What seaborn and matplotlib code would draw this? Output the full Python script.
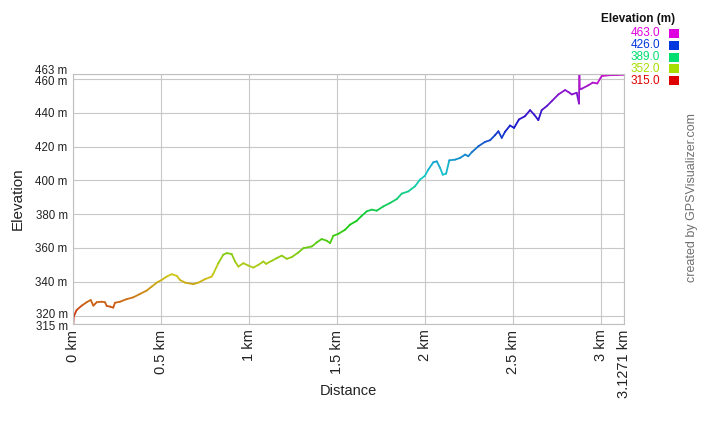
import colorsys
import matplotlib
matplotlib.use("Agg")
import matplotlib.pyplot as plt
from matplotlib.colors import ListedColormap
from matplotlib.patches import Rectangle
from matplotlib.transforms import ScaledTranslation
import seaborn as sns
import pandas as pd
import numpy as np

# --- data ---
dist_km = [0.000, 0.002, 0.019, 0.048, 0.076, 0.099, 0.114, 0.133, 0.161, 0.180,
           0.190, 0.209, 0.227, 0.237, 0.265, 0.303, 0.341, 0.379, 0.417, 0.445,
           0.477, 0.502, 0.531, 0.559, 0.588, 0.606, 0.635, 0.682, 0.710, 0.748,
           0.786, 0.795, 0.824, 0.852, 0.872, 0.900, 0.919, 0.938, 0.966, 0.994,
           1.023, 1.051, 1.080, 1.095, 1.127, 1.156, 1.184, 1.213, 1.241, 1.278,
           1.307, 1.355, 1.383, 1.411, 1.440, 1.459, 1.477, 1.506, 1.544, 1.572,
           1.610, 1.639, 1.667, 1.695, 1.724, 1.761, 1.799, 1.838, 1.866, 1.903,
           1.941, 1.970, 1.998, 2.017, 2.045, 2.065, 2.084, 2.099, 2.118, 2.136,
           2.169, 2.197, 2.226, 2.244, 2.264, 2.301, 2.339, 2.368, 2.396, 2.415,
           2.434, 2.453, 2.481, 2.504, 2.532, 2.566, 2.595, 2.618, 2.642, 2.661,
           2.690, 2.718, 2.756, 2.794, 2.813, 2.832, 2.860, 2.873, 2.875, 2.877,
           2.889, 2.926, 2.951, 2.977, 3.002, 3.049, 3.088, 3.127]
elev_m = [315.0, 319.3, 323.3, 325.9, 327.9, 329.2, 325.9, 327.9, 328.2, 327.9,
          325.7, 325.3, 324.7, 327.6, 328.2, 329.7, 330.8, 332.8, 334.8, 337.1,
          339.7, 341.1, 343.1, 344.5, 343.5, 341.1, 339.5, 338.6, 339.5, 341.5,
          343.1, 344.7, 351.0, 356.0, 357.0, 356.4, 352.0, 349.0, 351.0, 349.6,
          348.4, 350.0, 352.0, 350.6, 352.4, 354.0, 355.5, 353.6, 354.6, 357.3,
          359.9, 360.9, 363.3, 365.3, 364.3, 362.9, 367.2, 368.4, 370.8, 373.8,
          376.1, 379.1, 381.7, 382.7, 382.1, 384.6, 386.6, 389.0, 392.2, 393.5,
          396.5, 400.5, 402.8, 406.4, 410.7, 411.3, 407.4, 403.4, 404.0, 411.9,
          412.3, 413.3, 415.3, 414.3, 416.7, 420.2, 422.8, 423.8, 426.8, 429.1,
          425.2, 428.8, 432.5, 431.1, 436.1, 438.0, 441.6, 439.0, 435.7, 441.6,
          444.0, 446.9, 450.9, 453.5, 452.3, 450.9, 451.9, 445.5, 463.0, 454.0,
          454.3, 456.3, 457.9, 457.4, 461.8, 462.3, 462.4, 462.5]

y_ticks = [315, 320, 340, 360, 380, 400, 420, 440, 460, 463]
x_ticks = [0, 0.5, 1, 1.5, 2, 2.5, 3, 3.1271]
x_labels = ['0 km', '0.5 km', '1 km', '1.5 km', '2 km', '2.5 km', '3 km', '3.1271 km']
legend_vals = [463.0, 426.0, 389.0, 352.0, 315.0]
e_min, e_max = 315.0, 463.0

# --- style ---
sns.set_theme(style="whitegrid")
plt.rcParams['font.family'] = ['Liberation Sans', 'DejaVu Sans']

def hue_color(v, s, b):
    h = (v - e_min) / (e_max - e_min) * 300 / 360
    return colorsys.hsv_to_rgb(h, s, b)

line_cmap = ListedColormap([colorsys.hsv_to_rgb(h, 0.9, 0.8)
                            for h in np.linspace(0, 300 / 360, 256)])

# one short segment per pair of points, coloured by its elevation
rows = []
for i in range(len(dist_km) - 1):
    h = (elev_m[i] + elev_m[i + 1]) / 2
    rows.append({'seg': i, 'km': dist_km[i], 'm': elev_m[i], 'h': h})
    rows.append({'seg': i, 'km': dist_km[i + 1], 'm': elev_m[i + 1], 'h': h})
seg_df = pd.DataFrame(rows)

fig = plt.figure(figsize=(7.13, 4.25), dpi=100)
ax = fig.add_axes([0.1028, 0.2376, 0.7720, 0.5883])

sns.lineplot(data=seg_df, x='km', y='m', hue='h', units='seg', estimator=None,
             palette=line_cmap, hue_norm=(e_min, e_max), legend=False, sort=False,
             linewidth=1.3, solid_capstyle='round', ax=ax)

ax.set_xlim(0, 3.1271)
ax.set_ylim(e_min, e_max)
ax.set_xticks(x_ticks)
ax.set_xticklabels(x_labels, rotation=90, fontsize=10.5)
ax.set_yticks(y_ticks)
ax.set_yticklabels([f'{v} m' for v in y_ticks], fontsize=8.3)
ax.tick_params(axis='both', length=0, pad=4, colors='#222222')

# nudge the crowded labels at both ends apart
ylabs = ax.get_yticklabels()
nudges = {0: -1.5, 1: 2.5, 8: -1.0, 9: 4.5}
for idx, dy in nudges.items():
    lab = ylabs[idx]
    lab.set_transform(lab.get_transform() + ScaledTranslation(0, dy / 100, fig.dpi_scale_trans))

ax.grid(True, color='#c8c8c8', linewidth=0.8)
for sp in ax.spines.values():
    sp.set_color('#c0c0c0')
    sp.set_linewidth(0.8)

ax.set_xlabel('Distance', fontsize=10.5, color='#222222')
ax.set_ylabel('Elevation', fontsize=11, color='#222222')
ax.xaxis.label.set_va('center')
ax.xaxis.set_label_coords(0.5, -0.268)
ax.yaxis.label.set_va('center')
ax.yaxis.set_label_coords(-0.1005, 0.5)

# --- elevation colour key ---
fig.text(638 / 713, 1 - 19 / 425, 'Elevation (m)', fontsize=8.5, fontweight='bold',
         ha='center', va='center', color='#111111')
for k, v in enumerate(legend_vals):
    yc = 1 - (33.5 + 11.8 * k) / 425
    col = hue_color(v, 1.0, 0.87)
    fig.text(660 / 713, yc, f'{v:.1f}', fontsize=8.5, ha='right', va='center', color=col)
    fig.patches.append(Rectangle((669 / 713, yc - 4.5 / 425), 10 / 713, 9 / 425,
                                 transform=fig.transFigure, facecolor=col,
                                 edgecolor='none'))

fig.text(692 / 713, 1 - 198 / 425, 'created by GPSVisualizer.com', fontsize=9,
         rotation=90, ha='center', va='center', color='#707070')

fig.savefig('out.png', dpi=100)
